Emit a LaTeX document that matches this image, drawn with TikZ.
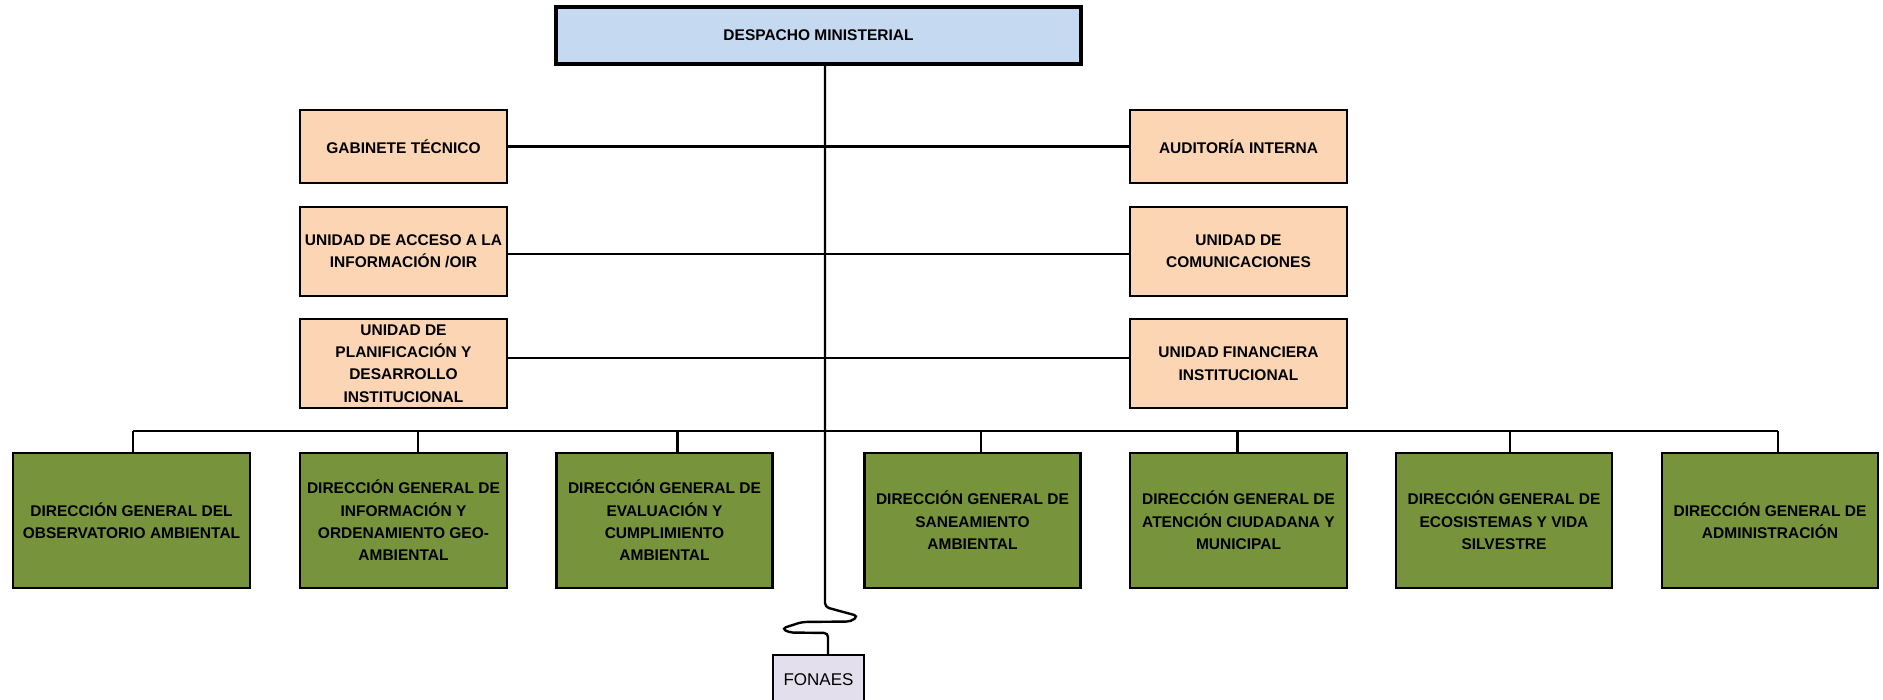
\documentclass[tikz,border=0pt]{standalone}
\usepackage{fontspec}
\setmainfont{Liberation Sans}
\definecolor{despblue}{HTML}{C5D9F1}
\definecolor{unitorange}{HTML}{FCD5B4}
\definecolor{dirgreen}{HTML}{77933C}
\definecolor{fonlav}{HTML}{E4DFEC}
\begin{document}
\begin{tikzpicture}[x=1pt,y=-1pt,
  orgbox/.style={draw=black, line width=2.5pt, align=center, inner sep=0pt,
    font=\bfseries\fontsize{15.5}{22.4}\selectfont},
  headbox/.style={orgbox, fill=despblue, line width=3.2pt},
  unitbox/.style={orgbox, fill=unitorange},
  dirbox/.style={orgbox, fill=dirgreen, minimum height=135pt},
  fundbox/.style={draw=black, line width=2.5pt, fill=fonlav, inner sep=0pt,
    font=\fontsize{17}{20}\selectfont},
  link/.style={draw=black, line width=2.4pt}]
\useasboundingbox (0,0) rectangle (1883,700);
\clip (0,0) rectangle (1883,700);

% head office
\node[headbox, minimum width=525pt, minimum height=57pt] (desp) at (818.5,35.5) {DESPACHO MINISTERIAL};

% advisory units, left column
\node[unitbox, minimum width=207pt, minimum height=73pt] (gab) at (403.5,146.5) {GABINETE TÉCNICO};
\node[unitbox, minimum width=207pt, minimum height=89pt] (uai) at (403.5,251.5) {UNIDAD DE ACCESO A LA\\INFORMACIÓN /OIR};
\node[unitbox, minimum width=207pt, minimum height=89pt] (upd) at (403.5,363.5) {UNIDAD DE\\PLANIFICACIÓN Y\\DESARROLLO\\INSTITUCIONAL};

% advisory units, right column
\node[unitbox, minimum width=217pt, minimum height=73pt] (aud) at (1238.5,146.5) {AUDITORÍA INTERNA};
\node[unitbox, minimum width=217pt, minimum height=89pt] (com) at (1238.5,251.5) {UNIDAD DE\\COMUNICACIONES};
\node[unitbox, minimum width=217pt, minimum height=89pt] (ufi) at (1238.5,363.5) {UNIDAD FINANCIERA\\INSTITUCIONAL};

% general directorates
\node[dirbox, minimum width=237pt] (d1) at (131.5,520.5) {DIRECCIÓN GENERAL DEL\\OBSERVATORIO AMBIENTAL};
\node[dirbox, minimum width=207pt] (d2) at (403.5,520.5) {DIRECCIÓN GENERAL DE\\INFORMACIÓN Y\\ORDENAMIENTO GEO-\\AMBIENTAL};
\node[dirbox, minimum width=216pt] (d3) at (664.5,520.5) {DIRECCIÓN GENERAL DE\\EVALUACIÓN Y\\CUMPLIMIENTO\\AMBIENTAL};
\node[dirbox, minimum width=216pt] (d4) at (972.5,520.5) {DIRECCIÓN GENERAL DE\\SANEAMIENTO\\AMBIENTAL};
\node[dirbox, minimum width=217pt] (d5) at (1238.5,520.5) {DIRECCIÓN GENERAL DE\\ATENCIÓN CIUDADANA Y\\MUNICIPAL};
\node[dirbox, minimum width=216pt] (d6) at (1504,520.5) {DIRECCIÓN GENERAL DE\\ECOSISTEMAS Y VIDA\\SILVESTRE};
\node[dirbox, minimum width=216pt] (d7) at (1770,520.5) {DIRECCIÓN GENERAL DE\\ADMINISTRACIÓN};

% fund
\node[fundbox, minimum width=91pt, minimum height=49pt] (fon) at (818.5,679.5) {FONAES};

% trunk and bus
\coordinate (trunk) at (825,607);
\coordinate (busL) at (133,431);
\coordinate (busR) at (1778,431);

% horizontal links between advisory units
\draw[link] (gab.east) -- (aud.west);
\draw[link] ([yshift=-2.5pt]uai.east) -- ([yshift=-2.5pt]com.west);
\draw[link] ([yshift=5.5pt]upd.east) -- ([yshift=5.5pt]ufi.west);

% distribution bus and drops
\draw[link] (busL) -- (busR);
\draw[link] ([xshift=1.5pt]d1.north) -- ([xshift=1.5pt]d1.north |- busL);
\draw[link] ([xshift=14.5pt]d2.north) -- ([xshift=14.5pt]d2.north |- busL);
\draw[link] ([xshift=13pt]d3.north) -- ([xshift=13pt]d3.north |- busL);
\draw[link] ([xshift=8.5pt]d4.north) -- ([xshift=8.5pt]d4.north |- busL);
\draw[link] ([xshift=-1pt]d5.north) -- ([xshift=-1pt]d5.north |- busL);
\draw[link] ([xshift=6pt]d6.north) -- ([xshift=6pt]d6.north |- busL);
\draw[link] ([xshift=8pt]d7.north) -- ([xshift=8pt]d7.north |- busL);

% trunk with break mark down to the fund
\draw[link, rounded corners=4pt] (desp.south -| trunk) -- (trunk)
  -- (858,616) -- (851,621.5) -- (802,622) -- (782,628.5) -- (789,632.5)
  -- (828,633) -- (fon.north -| 828,0);
\end{tikzpicture}
\end{document}
